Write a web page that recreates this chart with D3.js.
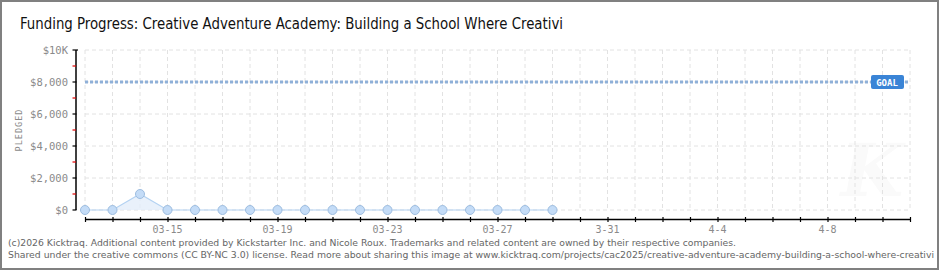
<!DOCTYPE html>
<html>
<head>
<meta charset="utf-8">
<script src="https://cdn.jsdelivr.net/npm/d3@7"></script>
<style>
  html, body { margin: 0; padding: 0; background: #fff; }
  svg { display: block; }
</style>
</head>
<body>
<div id="chart"></div>
<script>
"use strict";

// data
var titleText = "Funding Progress: Creative Adventure Academy: Building a School Where Creativi";
var dates = ["2025-03-12", "2025-03-13", "2025-03-14", "2025-03-15", "2025-03-16", "2025-03-17",
  "2025-03-18", "2025-03-19", "2025-03-20", "2025-03-21", "2025-03-22", "2025-03-23",
  "2025-03-24", "2025-03-25", "2025-03-26", "2025-03-27", "2025-03-28", "2025-03-29"];
var pledged = [0, 0, 1000, 0, 0, 0, 0, 0, 0, 0, 0, 0, 0, 0, 0, 0, 0, 0];
var goal = 8000;
var axisStart = "2025-03-12";
var axisEnd = "2025-04-11";
var yTickValues = [0, 2000, 4000, 6000, 8000, 10000];
var yTickLabels = ["$0", "$2,000", "$4,000", "$6,000", "$8,000", "$10K"];
var xLabelDates = ["2025-03-15", "2025-03-19", "2025-03-23", "2025-03-27", "2025-03-31", "2025-04-04", "2025-04-08"];
var xLabelTexts = ["03-15", "03-19", "03-23", "03-27", "3-31", "4-4", "4-8"];
var footerLines = [
  "(c)2026 Kicktraq. Additional content provided by Kickstarter Inc. and Nicole Roux. Trademarks and related content are owned by their respective companies.",
  "Shared under the creative commons (CC BY-NC 3.0) license. Read more about sharing this image at www.kicktraq.com/projects/cac2025/creative-adventure-academy-building-a-school-where-creativi"
];

var W = 940, H = 270;
var parse = d3.timeParse("%Y-%m-%d");

var svg = d3.select("#chart")
  .append("svg")
  .attr("width", W)
  .attr("height", H);

// frame
svg.append("rect")
  .attr("x", 1).attr("y", 1)
  .attr("width", W - 3).attr("height", H - 2)
  .attr("fill", "#fff")
  .attr("stroke", "#808080")
  .attr("stroke-width", 2);

// scales
var x = d3.scaleTime()
  .domain([parse(axisStart), parse(axisEnd)])
  .range([85, 910]);
var y = d3.scaleLinear()
  .domain([0, 10000])
  .range([210, 50]);

var allDays = d3.timeDay.range(parse(axisStart), d3.timeDay.offset(parse(axisEnd), 1));

// title
svg.append("text")
  .attr("x", 20).attr("y", 29)
  .attr("font-family", "'Liberation Sans Narrow', 'DejaVu Sans Condensed', sans-serif")
  .attr("font-size", 16)
  .attr("fill", "#111")
  .attr("textLength", 543)
  .attr("lengthAdjust", "spacingAndGlyphs")
  .text(titleText);

// faint watermark
svg.append("text")
  .attr("x", 872).attr("y", 196)
  .attr("text-anchor", "middle")
  .attr("font-family", "'DejaVu Serif', serif")
  .attr("font-style", "italic")
  .attr("font-weight", "bold")
  .attr("font-size", 72)
  .attr("fill", "#fafafa")
  .text("K");

// grid
var grid = svg.append("g").attr("stroke", "#e2e2e2").attr("stroke-dasharray", "4,3");
grid.selectAll("line.v")
  .data(allDays)
  .enter().append("line")
  .attr("x1", function(d) { return x(d); })
  .attr("x2", function(d) { return x(d); })
  .attr("y1", 50).attr("y2", 210);
grid.selectAll("line.h")
  .data(yTickValues)
  .enter().append("line")
  .attr("x1", 85).attr("x2", 910)
  .attr("y1", function(d) { return y(d); })
  .attr("y2", function(d) { return y(d); });

// goal line
svg.append("line")
  .attr("x1", 85).attr("x2", 910)
  .attr("y1", y(goal)).attr("y2", y(goal))
  .attr("stroke", "#8fb0d8")
  .attr("stroke-width", 3)
  .attr("stroke-dasharray", "3,2");

var gx = 887, gy = y(goal);
svg.append("rect")
  .attr("x", gx - 16).attr("y", gy - 7)
  .attr("width", 33).attr("height", 14)
  .attr("rx", 2)
  .attr("fill", "#3a84d6");
svg.append("text")
  .attr("x", gx).attr("y", gy + 3.5)
  .attr("text-anchor", "middle")
  .attr("font-family", "'DejaVu Sans Mono', monospace")
  .attr("font-weight", "bold")
  .attr("font-size", 9)
  .attr("fill", "#fff")
  .text("GOAL");

// series
var pts = dates.map(function(d, i) { return { date: parse(d), value: pledged[i] }; });

svg.append("path")
  .datum(pts)
  .attr("fill", "#e4eefa")
  .attr("fill-opacity", 0.8)
  .attr("d", d3.area()
    .x(function(d) { return x(d.date); })
    .y0(y(0))
    .y1(function(d) { return y(d.value); }));

svg.append("path")
  .datum(pts)
  .attr("fill", "none")
  .attr("stroke", "#b3d2f2")
  .attr("stroke-width", 1.2)
  .attr("d", d3.line()
    .x(function(d) { return x(d.date); })
    .y(function(d) { return y(d.value); }));

svg.selectAll("circle.pt")
  .data(pts)
  .enter().append("circle")
  .attr("cx", function(d) { return x(d.date); })
  .attr("cy", function(d) { return y(d.value); })
  .attr("r", 4.5)
  .attr("fill", "#c4dcf7")
  .attr("stroke", "#9dbde0")
  .attr("stroke-width", 1);

// y axis
var yAxis = svg.append("g").attr("transform", "translate(76,0)");
yAxis.append("line")
  .attr("x1", 0).attr("x2", 0)
  .attr("y1", 50).attr("y2", 210)
  .attr("stroke", "#000").attr("stroke-width", 1.5);
yAxis.selectAll("line.minor")
  .data(d3.range(1000, 10000, 2000))
  .enter().append("line")
  .attr("x1", -3.5).attr("x2", 0)
  .attr("y1", function(d) { return y(d); })
  .attr("y2", function(d) { return y(d); })
  .attr("stroke", "#e00000").attr("stroke-width", 1.2);
yAxis.selectAll("line.major")
  .data(yTickValues)
  .enter().append("line")
  .attr("x1", -3.5).attr("x2", function(d) { return d === 10000 ? 2 : 0.5; })
  .attr("y1", function(d) { return y(d); })
  .attr("y2", function(d) { return y(d); })
  .attr("stroke", "#000").attr("stroke-width", 1.2);
yAxis.selectAll("text")
  .data(yTickValues)
  .enter().append("text")
  .attr("x", -8)
  .attr("y", function(d) { return y(d) + 3.5; })
  .attr("text-anchor", "end")
  .attr("font-family", "'DejaVu Sans Mono', monospace")
  .attr("font-size", 10.5)
  .attr("fill", "#8a8a8a")
  .text(function(d, i) { return yTickLabels[i]; });

svg.append("text")
  .attr("transform", "translate(22,130) rotate(-90)")
  .attr("text-anchor", "middle")
  .attr("font-family", "'DejaVu Sans Mono', monospace")
  .attr("font-size", 8.5)
  .attr("letter-spacing", 1)
  .attr("fill", "#8a8a8a")
  .text("PLEDGED");

// x axis
var xAxis = svg.append("g").attr("transform", "translate(0,219.5)");
xAxis.call(d3.axisBottom(x).tickValues(allDays).tickSize(2.5).tickFormat(""))
  .call(function(g) {
    g.select(".domain").attr("stroke", "#000").attr("stroke-width", 1.5).attr("d", "M85,0H910");
    g.selectAll(".tick line").attr("stroke", "#000").attr("stroke-width", 1.2).attr("y1", -2.5);
  });
xAxis.selectAll("text.lbl")
  .data(xLabelDates)
  .enter().append("text")
  .attr("x", function(d) { return x(parse(d)); })
  .attr("y", 13)
  .attr("text-anchor", "middle")
  .attr("font-family", "'DejaVu Sans Mono', monospace")
  .attr("font-size", 10)
  .attr("fill", "#8a8a8a")
  .text(function(d, i) { return xLabelTexts[i]; });

// footer
svg.selectAll("text.foot")
  .data(footerLines)
  .enter().append("text")
  .attr("x", 8)
  .attr("y", function(d, i) { return 246 + i * 12; })
  .attr("font-family", "'DejaVu Sans', sans-serif")
  .attr("font-size", 9.2)
  .attr("fill", "#666")
  .attr("textLength", function(d, i) { return i === 0 ? 728 : 926; })
  .attr("lengthAdjust", "spacingAndGlyphs")
  .text(function(d) { return d; });
</script>
</body>
</html>
